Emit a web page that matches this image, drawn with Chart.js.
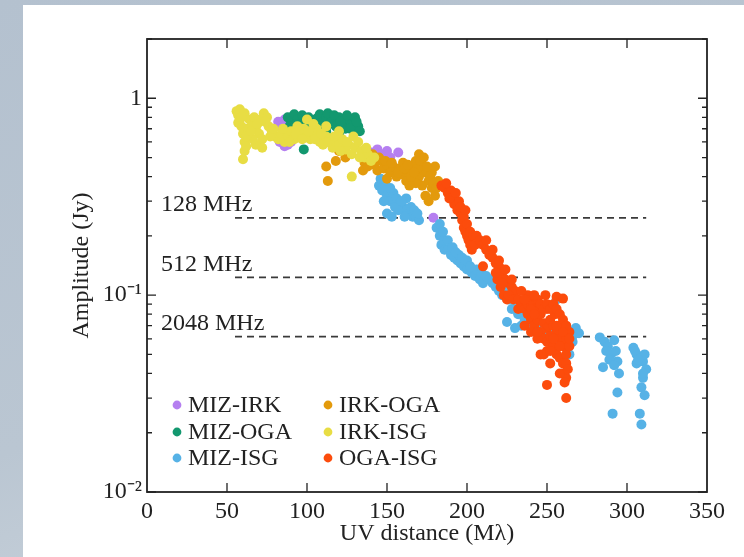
<!DOCTYPE html>
<html>
<head>
<meta charset="utf-8">
<script src="https://cdn.jsdelivr.net/npm/chart.js@4.4.1/dist/chart.umd.min.js"></script>
<style>
  html, body { margin: 0; padding: 0; }
  body {
    width: 744px; height: 557px; overflow: hidden; position: relative;
    background: linear-gradient(160deg, #b4c1cf 0%, #bac6d2 55%, #c4ced8 75%, #b2bfcc 100%);
  }
  #panel { position: absolute; left: 23px; top: 5px; width: 721px; height: 552px; background: #fff; }
  #chart { position: absolute; left: 0; top: 0; }
</style>
</head>
<body>
<div id="panel"></div>
<canvas id="chart" width="744" height="557"></canvas>
<script>
// baselines, [uv distance (Mλ), amplitude (Jy)]
const seriesNames = ["MIZ-IRK", "MIZ-OGA", "MIZ-ISG", "IRK-OGA", "IRK-ISG", "OGA-ISG"];
const seriesColors = ["#b57ff0", "#13986f", "#56b2e6", "#e39a0c", "#e8dd44", "#fc4c0c"];

const mizIrk = [[82,0.76],[84,0.72],[86,0.78],[83,0.6],[86,0.57],[88,0.58],[90,0.6],
  [140,0.53],[144,0.55],[146,0.52],[148,0.5],[150,0.54],[152,0.5],[157,0.53],[179,0.247]];

const mizOga = [[88,0.8],[90,0.76],[92,0.83],[94,0.78],[96,0.74],[98,0.8],[100,0.76],[102,0.72],
  [106,0.79],[108,0.83],[110,0.76],[112,0.8],[114,0.74],[116,0.78],[118,0.72],[120,0.8],
  [122,0.74],[124,0.7],[126,0.78],[128,0.74],[130,0.8],[132,0.72],[130,0.68],[104,0.68],
  [112,0.68],[120,0.66],[98,0.55],[89,0.72],[93,0.74],[97,0.82],[101,0.8],[105,0.74],
  [109,0.72],[113,0.84],[117,0.82],[121,0.76],[125,0.82],[127,0.7],[131,0.76],[133,0.68]];

const mizIsg = [[145,0.36],[147,0.34],[149,0.36],[150,0.32],[152,0.3],[154,0.33],[156,0.31],
  [158,0.29],[160,0.28],[162,0.27],[164,0.26],[166,0.25],[168,0.25],[170,0.24],[157,0.27],
  [150,0.26],[153,0.25],[146,0.39],[162,0.31],[148,0.3],[152,0.35],[155,0.28],[159,0.3],
  [161,0.25],[165,0.28],[167,0.27],[169,0.26],
  [181,0.22],[183,0.2],[184,0.18],[186,0.17],[188,0.17],[190,0.16],[192,0.155],[194,0.15],
  [196,0.145],[198,0.14],[200,0.135],[203,0.13],[205,0.125],[208,0.12],[210,0.115],[195,0.16],
  [200,0.15],[186,0.19],[183,0.23],[185,0.21],[188,0.19],[191,0.175],[193,0.165],[197,0.155],
  [199,0.15],[202,0.14],[206,0.135],[209,0.13],[212,0.125],
  [214,0.12],[218,0.11],[222,0.1],[226,0.095],[228,0.085],[232,0.08],[236,0.075],[240,0.07],
  [244,0.068],[248,0.065],[252,0.062],[256,0.06],[260,0.058],[225,0.073],[230,0.068],[234,0.07],
  [256,0.095],[262,0.055],[266,0.062],[268,0.068],[270,0.064],[264,0.05],[266,0.058],
  [216,0.115],[220,0.105],[224,0.11],[230,0.085],[238,0.078],[242,0.075],[246,0.07],[250,0.068],
  [254,0.065],[258,0.066],[262,0.062],
  [283,0.061],[286,0.058],[288,0.055],[290,0.05],[292,0.059],[293,0.052],[294,0.046],[295,0.04],
  [285,0.043],[294,0.032],[291,0.025],[304,0.054],[306,0.05],[308,0.048],[310,0.046],[311,0.05],
  [312,0.042],[310,0.038],[309,0.034],[311,0.031],[308,0.025],[309,0.022],[306,0.045],
  [287,0.052],[289,0.047],[292,0.044],[305,0.052],[307,0.047],[310,0.04]];

const irkOga = [[113,0.38],[112,0.45],[118,0.48],[120,0.54],[124,0.5],[136,0.47],[140,0.5],
  [142,0.46],[144,0.43],[146,0.48],[148,0.44],[150,0.46],[152,0.42],[154,0.45],[156,0.4],
  [158,0.44],[160,0.41],[162,0.38],[164,0.42],[166,0.45],[168,0.48],[170,0.52],[172,0.46],
  [174,0.42],[176,0.38],[178,0.35],[180,0.32],[172,0.36],[174,0.32],[176,0.3],[178,0.42],
  [180,0.45],[170,0.4],[168,0.37],[182,0.38],[160,0.47],[164,0.36],[150,0.39],[135,0.43],
  [138,0.45],[141,0.52],[145,0.5],[149,0.48],[153,0.47],[157,0.42],[161,0.44],[165,0.4],
  [169,0.44],[171,0.48],[173,0.5],[175,0.45],[177,0.4],[179,0.37],[181,0.35],[167,0.42],[163,0.46]];

const irkIsg = [[56,0.86],[57,0.82],[58,0.78],[59,0.72],[60,0.66],[61,0.6],[61,0.54],[60,0.49],
  [62,0.57],[63,0.7],[58,0.88],[61,0.84],[64,0.78],[66,0.74],[68,0.7],[70,0.66],[72,0.62],
  [71,0.78],[73,0.84],[75,0.8],[76,0.72],[78,0.68],[80,0.64],[82,0.62],[84,0.66],[86,0.6],
  [88,0.64],[90,0.68],[92,0.62],[94,0.72],[96,0.66],[98,0.7],[100,0.64],[102,0.62],[104,0.66],
  [106,0.7],[108,0.6],[110,0.58],[112,0.64],[114,0.62],[116,0.56],[118,0.6],[120,0.58],
  [122,0.62],[124,0.55],[126,0.58],[128,0.52],[130,0.56],[132,0.6],[134,0.54],[136,0.5],
  [138,0.52],[140,0.48],[128,0.4],[100,0.78],[104,0.74],[112,0.72],[120,0.68],[68,0.58],
  [72,0.56],[66,0.62],[57,0.75],[59,0.8],[62,0.64],[65,0.68],[67,0.8],[69,0.74],[74,0.76],
  [77,0.64],[79,0.7],[85,0.7],[89,0.6],[93,0.66],[97,0.62],[101,0.68],[105,0.62],[109,0.66],
  [113,0.6],[117,0.64],[121,0.54],[125,0.6],[129,0.64],[133,0.5],[137,0.56],[142,0.5]];

const ogaIsg = [[184,0.36],[186,0.35],[188,0.33],[190,0.34],[191,0.31],[192,0.29],[194,0.27],
  [196,0.26],[197,0.24],[198,0.22],[199,0.21],[200,0.2],[201,0.19],[202,0.18],[203,0.17],
  [198,0.25],[195,0.3],[200,0.23],[187,0.37],[189,0.31],[193,0.33],[196,0.28],[199,0.27],
  [202,0.21],[204,0.2],[205,0.18],
  [206,0.2],[208,0.19],[210,0.18],[212,0.17],[214,0.16],[216,0.155],[218,0.145],[220,0.14],
  [222,0.13],[224,0.12],[226,0.115],[228,0.11],[221,0.11],[223,0.1],[225,0.095],[210,0.14],
  [219,0.12],[230,0.105],[212,0.19],[216,0.17],[220,0.15],[224,0.135],[228,0.12],[218,0.13],
  [222,0.115],[226,0.1],[229,0.095],[232,0.085],
  [234,0.09],[236,0.085],[238,0.08],[240,0.095],[242,0.09],[244,0.085],[240,0.075],[242,0.07],
  [244,0.075],[246,0.08],[248,0.072],[250,0.068],[252,0.075],[254,0.07],[256,0.065],[258,0.06],
  [260,0.055],[246,0.065],[248,0.06],[250,0.058],[252,0.062],[254,0.055],[256,0.05],[258,0.048],
  [260,0.045],[262,0.05],[262,0.06],[258,0.07],[255,0.08],[250,0.085],[249,0.1],[256,0.098],
  [260,0.096],[238,0.1],[236,0.07],[246,0.05],[252,0.045],[260,0.04],[262,0.038],[250,0.035],
  [262,0.03],[264,0.065],[264,0.055],[244,0.06],[240,0.065],[232,0.095],[234,0.105],
  [238,0.09],[240,0.085],[242,0.08],[244,0.095],[246,0.09],[248,0.085],[250,0.09],[252,0.085],
  [254,0.09],[256,0.085],[258,0.08],[260,0.075],[262,0.07],[248,0.05],[250,0.052],[254,0.06],
  [256,0.07],[258,0.055],[260,0.065],[262,0.045],[264,0.06],[242,0.1],[236,0.095],[244,0.065],
  [252,0.052],[258,0.04],[261,0.036],[263,0.042]];

const seriesData = [mizIrk, mizOga, mizIsg, irkOga, irkIsg, ogaIsg];

// reference levels
const freqLabels = ["128 MHz", "512 MHz", "2048 MHz"];
const freqLevels = [0.247, 0.123, 0.0615];
const freqSpan = [55, 312];

const xTicks = [0, 50, 100, 150, 200, 250, 300, 350];
const yMajor = [0.01, 0.1, 1];
const yTickLabels = ["10\u207B\u00B2", "10\u207B\u00B9", "1"];

const FONT = "'Liberation Serif', 'Times New Roman', serif";
const INK = "#222";
const FS = 24;

const yTickValues = [];
yMajor.forEach(d => {
  for (let m = 1; m <= 9; m++) {
    const v = +(d * m).toPrecision(3);
    if (v <= 2) yTickValues.push(v);
  }
});
yTickValues.push(2);

const datasets = seriesData.map((pts, i) => ({
  label: seriesNames[i],
  data: pts.map(p => ({ x: p[0], y: p[1] })),
  backgroundColor: seriesColors[i],
  borderWidth: 0,
  pointRadius: 5,
  pointHoverRadius: 5,
  order: 6 - i,
}));

freqLevels.forEach((lv, i) => {
  datasets.push({
    label: freqLabels[i],
    data: [{ x: freqSpan[0], y: lv }, { x: freqSpan[1], y: lv }],
    showLine: true,
    borderColor: "#3a3a3a",
    borderWidth: 1.7,
    borderDash: [7, 5],
    pointRadius: 0,
    order: 10,
  });
});

const frame = {
  id: "frame",
  afterDraw(chart) {
    const { ctx, chartArea: a, scales: { x, y } } = chart;
    ctx.save();
    ctx.strokeStyle = INK;
    ctx.lineWidth = 1.8;
    ctx.strokeRect(a.left, a.top, a.right - a.left, a.bottom - a.top);
    ctx.lineWidth = 1.3;
    ctx.beginPath();
    yTickValues.forEach(v => {
      const py = y.getPixelForValue(v);
      const len = yMajor.includes(v) ? 9 : 5;
      ctx.moveTo(a.left, py); ctx.lineTo(a.left + len, py);
      ctx.moveTo(a.right, py); ctx.lineTo(a.right - len, py);
    });
    xTicks.slice(1, -1).forEach(v => {
      const px = x.getPixelForValue(v);
      ctx.moveTo(px, a.bottom); ctx.lineTo(px, a.bottom - 9);
      ctx.moveTo(px, a.top); ctx.lineTo(px, a.top + 9);
    });
    ctx.stroke();

    // frequency labels above the dashed lines
    ctx.fillStyle = INK;
    ctx.font = FS + "px " + FONT;
    ctx.textBaseline = "middle";
    ctx.textAlign = "left";
    freqLevels.forEach((lv, i) => {
      ctx.fillText(freqLabels[i], a.left + 14, y.getPixelForValue(lv) - 13);
    });

    // legend, two columns inside the plot
    const colX = [a.left + 30, a.left + 181];
    const rowY = [a.bottom - 87, a.bottom - 60, a.bottom - 34];
    seriesNames.forEach((name, i) => {
      const cx = colX[Math.floor(i / 3)];
      const cy = rowY[i % 3];
      ctx.fillStyle = seriesColors[i];
      ctx.beginPath();
      ctx.arc(cx, cy, 4.4, 0, Math.PI * 2);
      ctx.fill();
      ctx.fillStyle = INK;
      ctx.fillText(name, cx + 11, cy + 1);
    });
    ctx.restore();
  },
};

new Chart(document.getElementById("chart"), {
  type: "scatter",
  data: { datasets },
  plugins: [frame],
  options: {
    responsive: false,
    animation: false,
    layout: { padding: { left: 0, top: 39, right: 37, bottom: 0 } },
    plugins: { legend: { display: false }, tooltip: { enabled: false } },
    scales: {
      x: {
        type: "linear",
        min: 0,
        max: 350,
        afterFit: s => { s.height = 65; },
        afterBuildTicks: s => { s.ticks = xTicks.map(v => ({ value: v })); },
        grid: { display: false, drawTicks: false },
        border: { display: false },
        ticks: { padding: 5, color: INK, font: { family: FONT, size: FS }, maxRotation: 0 },
        title: {
          display: true, text: "UV distance (M\u03BB)", color: INK,
          font: { family: FONT, size: FS }, padding: { top: 0, bottom: 9 },
        },
      },
      y: {
        type: "logarithmic",
        min: 0.01,
        max: 2,
        afterFit: s => { s.width = 147; },
        afterBuildTicks: s => { s.ticks = yTickValues.map(v => ({ value: v })); },
        grid: { display: false, drawTicks: false },
        border: { display: false },
        ticks: {
          autoSkip: false,
          padding: 5,
          color: INK,
          font: { family: FONT, size: FS },
          callback: v => {
            const k = yMajor.indexOf(v);
            return k >= 0 ? yTickLabels[k] : "";
          },
        },
        title: {
          display: true, text: "Amplitude (Jy)", color: INK,
          font: { family: FONT, size: FS }, padding: { top: 67, bottom: 0 },
        },
      },
    },
  },
});
</script>
</body>
</html>
